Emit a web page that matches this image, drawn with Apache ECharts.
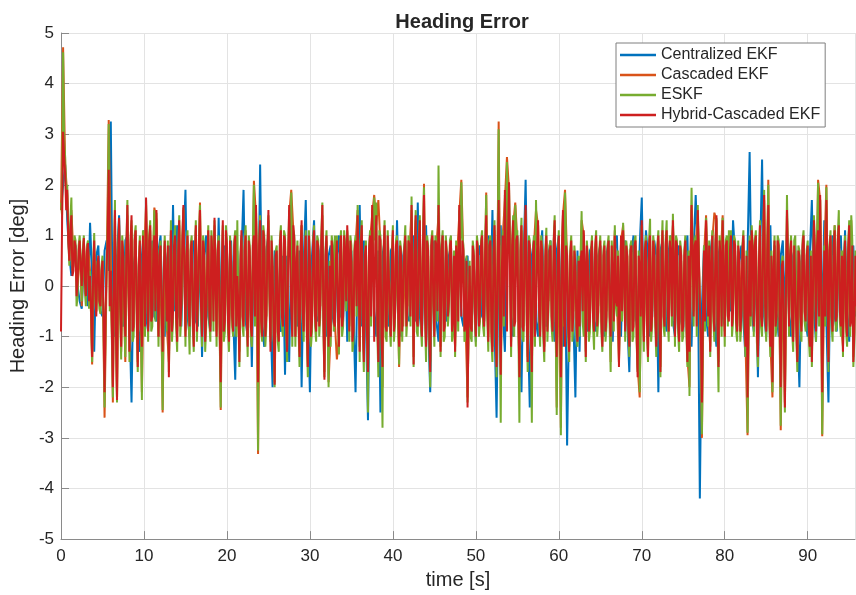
<!DOCTYPE html>
<html>
<head>
<meta charset="utf-8">
<script src="https://cdn.jsdelivr.net/npm/echarts@6/dist/echarts.min.js"></script>
<style>html,body{margin:0;padding:0;background:#fff}#c{width:856px;height:595px}</style>
</head>
<body>
<div id="c"></div>
<script>
// Sample grids (seconds)
const FINE_STEP = 0.25, HALF_OFFSET = 0.125, COARSE_STEP = 0.5;
const xTicks = [0, 10, 20, 30, 40, 50, 60, 70, 80, 90];
const yTicks = [-5, -4, -3, -2, -1, 0, 1, 2, 3, 4, 5];
const seriesNames = ['Centralized EKF', 'Cascaded EKF', 'ESKF', 'Hybrid-Cascaded EKF'];

// Hybrid-Cascaded EKF (deg) at t = 0, 0.25, 0.5, ...
const hybridVals = [
 -0.9, 3.05, 2.2, 1.9, 0.5, 1.4, 0.3, 0.8, 0.1, 0.9,
 0.0, 0.95, -0.2, 0.85, 0.2, -1.4, 0.9, -0.6, 0.6, -0.4,
 0.5, -2.1, 0.4, 2.3, 0.3, -2.0, 1.5, -2.25, 1.35, -1.2,
 0.6, -1.0, 1.6, -1.3, 1.4, -0.8, 1.1, -1.6, 0.9, -1.2,
 0.5, 1.75, -0.9, 1.2, -0.6, 1.0, 1.5, -1.0, 0.8, -1.3,
 0.9, -0.7, -1.8, 1.1, -0.5, 1.0, -1.1, 1.3, -0.4, 1.6,
 -1.0, 1.0, -0.8, 0.9, -1.2, 1.2, -0.3, 1.5, -1.0, 0.7,
 -0.6, 1.1, -0.9, 0.6, 1.35, -1.0, 0.9, -1.9, 1.3, -0.7,
 0.8, -1.1, 0.5, -0.9, 1.0, 0.2, -1.5, 1.1, -0.8, 1.0,
 -1.2, 0.7, -1.0, 1.0, 1.6, -1.9, 1.3, -1.0, 0.9, -0.6,
 1.5, -1.3, 0.4, -1.95, 0.7, -1.1, 1.1, -0.8, 0.9, -1.3,
 1.6, -0.5, 1.2, -1.0, 0.8, -1.4, 1.3, -0.9, 1.0, -1.6,
 0.5, -0.7, 1.1, -0.9, 0.8, -0.4, 1.6, -1.85, 1.0, -1.2,
 -1.0, 0.6, -0.8, 0.9, -1.2, 1.0, -0.6, 0.7, 1.2, -0.9,
 0.5, -0.9, 0.9, 1.4, -1.3, 1.2, -1.5, 0.8, -1.7, 1.0,
 1.6, -1.1, 1.4, -1.5, 0.9, -1.6, 1.2, -0.9, 0.3, -1.0,
 1.1, -0.6, 0.9, -1.2, 0.6, -0.9, 1.0, -0.4, 0.8, 1.6,
 -1.55, 1.4, -0.8, 1.3, -1.0, 1.8, -1.2, 0.7, -1.7, 1.0,
 -1.0, 0.8, 1.6, -1.3, 1.0, -0.8, 0.6, -0.3, 0.9, -0.7,
 -1.3, 0.6, 1.6, -0.6, 0.7, -0.8, -2.4, 0.4, -0.9, 0.6,
 -1.0, 0.7, -0.5, 1.0, -0.8, 1.4, -1.1, 0.9, -1.3, 1.2,
 -1.6, 1.7, -1.75, 1.0, 1.9, -0.9, 2.05, -1.2, 1.3, -0.7,
 1.0, -1.8, 1.2, -0.9, 1.6, -1.5, 0.8, -1.7, 0.9, -0.5,
 1.3, -1.0, 0.7, -1.3, 1.0, -0.3, 0.8, -0.9, 1.3, -1.4,
 1.0, -1.8, 1.5, -1.2, 0.6, -1.3, 0.9, -0.6, 0.4, -1.1,
 -0.8, 0.7, 1.1, -1.4, 0.5, -0.7, 0.9, -0.9, 1.0, -0.5,
 0.9, -1.2, 0.8, -0.6, 0.9, -1.0, 0.3, 1.0, -0.4, -1.6,
 1.0, 1.1, -0.9, 0.6, -1.2, 0.8, -0.8, 0.9, -1.8, 0.4,
 1.3, -1.1, 0.9, -1.4, 1.0, -0.6, 0.7, -1.2, 1.0, -1.7,
 1.1, -0.8, 1.1, -0.9, 0.7, 1.3, -1.0, 0.8, -1.1, 0.6,
 -0.8, 0.9, -1.5, -1.3, 1.6, -0.6, 0.9, 1.5, -0.4, -2.3,
 0.7, 1.3, -0.6, -1.3, 1.0, -0.9, 1.4, -1.6, 0.6, 1.3,
 -1.0, 0.9, -0.7, 1.0, -0.5, 0.8, -0.9, 0.6, -0.6, 1.0,
 -1.2, -2.2, 0.9, 1.1, -0.8, 1.0, -1.4, 1.2, -0.8, 1.8,
 -0.9, 1.6, -1.2, -1.9, 0.9, -0.6, 0.8, -2.0, 0.5, -2.4,
 1.5, -0.8, 0.9, -1.1, 0.8, -1.5, 0.6, -0.9, 1.0, -0.7,
 0.8, -1.2, -1.5, 1.3, -0.9, 1.1, 1.8, -2.1, 0.7, 1.7,
 -1.5, 1.0, -0.9, 1.1, -0.6, 1.2, -0.8, -1.3, 0.9, -1.0,
 1.2, -0.7, -1.5, 0.6
];
// Hybrid-Cascaded EKF (deg) at t = 0.125, 0.375, ...
const hybridMidVals = [
 1.2, 2.6, 1.5, 0.9, 1.1, 0.2, 0.9, -0.2, 0.7, 0.4,
 0.6, 0.1, 0.7, -0.3, -0.5, 0.3, -0.1, 0.4, -0.3, 0.3,
 -0.6, -0.5, 1.0, -0.4, -0.8, 0.2, -0.9, 0.5, -0.3, 0.9,
 -0.4, 0.7, 0.2, 0.8, -0.9, 0.9, -0.5, 0.4, -0.7, 1.0,
 -0.8, 0.4, 0.9, -0.7, 0.7, -0.5, 0.3, 0.6, -0.6, 0.2,
 0.1, 0.8, -0.2, -0.9, 0.8, -0.6, 0.7, -0.8, 0.9, 0.3,
 0.6, -0.4, 0.7, -0.6, 0.5, -0.9, 0.8, -0.4, 0.9, -1.1,
 0.4, -0.5, 1.0, -0.7, 0.2, 0.7, -0.8, 0.3, -0.9, 1.1,
 -0.7, 0.9, -0.6, 0.8, -0.8, -0.4, 0.5, -0.6, 0.7, -0.5,
 0.9, -0.8, 0.8, -0.6, 0.4, 0.8, -0.7, 1.1, -1.0, 0.7,
 -0.2, 0.9, -0.8, 0.6, -0.9, 0.8, -0.6, 1.0, -0.7, 0.5,
 0.6, -1.0, 0.9, 0.4, -0.6, 0.7, -0.5, 0.6, -0.8, 1.0,
 -1.0, 0.8, -0.6, 0.9, -0.8, 0.9, -0.7, 0.6, -0.5, 0.4,
 0.9, -0.7, 0.5, -0.5, 0.7, -0.8, 1.0, -0.3, 0.6, 0.9,
 -1.1, 0.7, -0.4, 0.3, 0.8, -0.7, 0.6, -0.9, 0.7, -0.6,
 0.5, 0.8, -0.7, 1.0, -1.0, 0.6, -0.8, 1.0, -0.6, 0.5,
 -0.9, 0.8, -0.5, 0.8, -0.9, 0.7, -0.8, 0.9, -0.6, 0.2,
 0.6, -0.7, 0.9, -0.6, 0.8, -0.5, 0.9, -0.8, 0.8, -0.3,
 0.9, -0.5, 0.5, 0.7, -0.9, 0.9, -0.6, 0.8, -0.9, 0.6,
 0.8, -0.7, 0.4, 0.9, -0.9, 0.5, -0.6, -0.8, 0.8, -0.5,
 0.9, -0.8, 0.8, -0.6, 0.7, -0.4, 0.8, -0.9, 0.6, -0.7,
 0.5, -0.4, 0.3, -0.6, 0.6, 1.0, 0.2, 0.8, -0.8, 0.9,
 -0.6, 0.7, -0.8, 0.9, -0.5, 0.9, -0.9, 0.6, -1.0, 0.7,
 -0.5, 0.9, -0.8, 0.6, -0.9, 0.7, -0.6, 0.8, -0.7, 0.5,
 -0.6, 0.7, -0.6, 0.8, -0.8, 0.6, -0.9, 0.7, -0.8, 0.5,
 0.5, -0.5, 0.4, 0.8, -0.9, 0.6, -0.6, 0.7, -0.8, 0.6,
 -0.7, 0.6, -0.9, 0.7, -0.6, 0.8, -0.7, -0.3, 0.6, -0.2,
 -0.5, 0.3, 0.8, -0.8, 0.7, -0.9, 0.8, -0.9, 0.6, -0.6,
 -0.4, 0.7, -0.7, 0.8, -0.9, 0.9, -0.6, 0.7, -0.6, 0.6,
 -0.6, 0.8, -0.5, 0.9, -0.6, 0.5, 0.9, -0.7, 0.8, -0.9,
 0.6, -0.7, 0.6, 0.5, 0.7, 0.8, -0.8, 0.6, -1.0, -0.6,
 -0.7, 0.5, 0.8, 0.4, -0.5, 0.8, -0.7, 0.9, -0.8, 0.2,
 0.8, -0.6, 0.7, -0.8, 0.9, -0.7, 0.8, -0.9, 0.7, -0.6,
 0.6, -0.5, -0.6, 0.7, 0.8, -0.9, 0.5, -0.6, 0.9, -0.4,
 0.7, -0.6, 0.6, 0.3, -0.8, 0.9, -0.7, 0.4, -0.8, -0.2,
 0.5, 0.6, -0.7, 0.8, -0.8, 0.7, -0.6, 0.8, -0.5, 0.6,
 -0.8, 0.6, -0.2, 0.6, 0.8, -0.6, 0.2, -0.7, -0.6, 0.3,
 0.7, -0.6, 0.8, -0.7, 0.9, -0.5, 0.6, 0.5, -0.7, 0.7,
 -0.8, 0.8, -0.9, -0.4
];

// ESKF (deg) at t = 0, 0.25, 0.5, ...
const eskfVals = [
 1.65, 4.62, 2.55, 2.0, 0.4, 1.75, 0.4, 0.9, -0.2, 1.0,
 -0.3, 1.0, -0.4, 0.9, 0.3, -1.5, 1.05, -0.5, 0.5, -0.55,
 0.6, -2.4, 0.5, 3.2, 0.2, -2.2, 1.7, -2.3, 1.3, -1.45,
 0.7, -1.4, 1.7, -1.5, 1.3, -1.0, 1.2, -1.7, 1.0, -2.25,
 0.6, 1.7, -1.1, 1.3, -0.8, 1.5, 1.45, -1.2, 0.9, -2.45,
 1.0, -0.9, -1.7, 1.3, -0.7, 1.2, -1.3, 1.4, -0.6, 1.55,
 -1.2, 1.1, -1.35, 1.0, -1.3, 1.3, -0.5, 1.6, -1.2, 0.8,
 -0.8, 1.2, -1.1, 0.7, 1.3, -1.2, 1.0, -2.4, 1.2, -0.9,
 0.9, -1.3, 0.6, -1.0, 1.1, 1.3, -1.6, 1.0, -1.0, 1.2,
 -1.4, 0.8, -1.2, 2.0, 1.5, -3.25, 1.4, -1.1, 1.0, -0.8,
 1.4, -1.1, 0.5, -2.0, 0.8, -1.3, 1.2, -1.0, 1.0, -1.5,
 1.5, 1.85, 1.1, -1.2, 0.9, -1.6, 1.2, -1.1, 1.1, -1.8,
 0.6, -0.9, 1.2, -1.1, 0.9, -0.6, 1.65, -1.8, 1.1, -2.0,
 -1.2, 0.8, 1.0, 1.0, -1.35, 1.1, -0.8, 0.8, 1.1, -1.1,
 0.8, -1.1, 1.0, 1.6, -1.5, 1.3, -1.7, 0.9, -2.5, 1.1,
 1.5, 1.75, 1.65, -1.8, 1.0, -2.8, 1.3, -1.1, 0.5, -1.2,
 1.2, -0.8, 1.0, -1.55, 0.7, -1.1, 1.2, -0.6, 0.9, 1.77,
 -1.6, 1.5, -1.0, 1.4, -1.2, 1.95, -1.5, 0.8, -2.0, 1.1,
 -1.2, 0.9, 2.38, -1.4, 1.1, -1.0, 0.7, -0.5, 1.0, -0.9,
 -1.4, 0.9, 1.5, 2.05, 0.8, -1.0, -2.3, 0.5, -1.1, 0.7,
 -1.2, 0.8, -0.7, 1.1, -1.0, 1.8, -1.3, 1.0, -1.5, 1.3,
 -1.8, 3.1, -2.7, 1.1, 1.8, 2.45, 1.95, -1.4, 1.4, 1.6,
 1.1, -2.7, 1.35, -1.1, 1.5, -1.7, 0.9, -2.7, 1.0, 1.7,
 1.2, -1.2, 0.8, -1.5, 1.15, -0.5, 0.9, -1.1, 1.4, -2.55,
 1.1, -2.95, 1.4, 1.85, 0.7, -1.5, 1.0, -0.8, 0.5, -1.2,
 -1.0, 1.48, -1.0, -1.5, 0.6, -0.9, 1.0, -1.26, 1.1, -0.7,
 1.0, -1.3, 0.9, -0.8, 1.0, -1.7, 0.5, 1.2, -0.6, -1.5,
 0.9, 1.25, -1.1, 0.7, -1.4, 0.9, -1.0, 1.0, -1.7, -2.1,
 1.2, -1.3, 1.0, -1.5, 1.33, -0.8, 0.8, -1.4, 1.1, -1.8,
 1.3, -1.0, 1.3, -1.1, 0.8, 1.43, -1.2, 0.9, -1.3, 0.7,
 -1.0, 1.0, -1.6, -2.17, 1.94, -0.8, 1.0, 1.6, -0.6, -2.93,
 0.8, 1.35, -0.8, -1.4, 1.1, -1.1, 1.35, -2.1, 0.7, 1.35,
 -1.2, 1.0, 1.1, 1.1, -0.7, 0.9, -1.1, 0.9, -0.8, 1.1,
 -1.4, -2.9, 1.0, 1.2, -1.0, 1.1, -1.6, 1.3, -1.0, 1.9,
 -1.1, 2.0, -1.4, -2.1, 1.0, -0.8, 0.9, -2.76, 0.6, -2.5,
 1.8, -1.0, 1.0, -1.3, 1.0, -1.7, 0.7, -1.1, 1.1, -0.9,
 0.9, -1.4, -1.6, 1.4, -1.1, 2.04, 1.7, -2.93, 0.8, 1.95,
 -1.7, 1.1, -1.1, 1.2, -0.8, 1.5, -1.0, -1.4, 1.0, -1.2,
 1.3, 1.4, -1.6, 0.7
];
// ESKF (deg) at t = 0.125, 0.375, ...
const eskfMidVals = [
 1.4, 2.9, 1.7, 1.0, 1.3, 0.3, 1.0, -0.4, 0.8, 0.5,
 0.7, -0.1, 0.8, -0.45, -0.6, 0.4, -0.3, 0.5, -0.45, 0.4,
 -0.8, -0.6, 1.2, -0.5, -1.0, 0.3, -1.1, 0.6, -0.5, 1.0,
 -0.6, 0.8, 0.3, 0.9, -1.1, 1.0, -0.7, 0.5, -0.9, 1.1,
 -1.0, 0.5, 1.0, -0.9, 0.8, -0.7, 0.4, 0.7, -0.8, 0.3,
 0.2, 0.9, -0.3, -1.1, 0.9, -0.8, 0.8, -1.0, 1.0, 0.4,
 0.7, -0.6, 0.8, -0.8, 0.6, -1.1, 0.9, -0.6, 1.0, -1.3,
 0.5, -0.7, 1.1, -0.9, 0.3, 0.8, -1.0, 0.4, -1.1, 1.2,
 -0.9, 1.0, -0.8, 0.9, -1.0, -0.5, 0.6, -0.8, 0.8, -0.7,
 1.0, -1.0, 0.9, -0.8, 0.5, 0.9, -0.9, 1.2, -1.2, 0.8,
 -0.3, 1.0, -1.0, 0.7, -1.1, 0.9, -0.8, 1.1, -0.9, 0.6,
 0.7, -1.2, 1.0, 0.5, -0.8, 0.8, -0.7, 0.7, -1.0, 1.1,
 -1.2, 0.9, -0.8, 1.0, -1.0, 1.0, -0.9, 0.7, -0.7, 0.5,
 1.0, -0.9, 0.6, -0.7, 0.8, -1.0, 1.1, -0.5, 0.7, 1.0,
 -1.3, 0.8, -0.6, 0.4, 0.9, -0.9, 0.7, -1.1, 0.8, -0.8,
 0.6, 0.9, -0.9, 1.1, -1.2, 0.7, -1.0, 1.1, -0.8, 0.6,
 -1.1, 0.9, -0.7, 0.9, -1.1, 0.8, -1.0, 1.0, -0.8, 0.3,
 0.7, -0.9, 1.0, -0.8, 0.9, -0.7, 1.0, -1.0, 0.9, -0.4,
 1.0, -0.7, 0.6, 0.8, -1.1, 1.0, -0.8, 0.9, -1.1, 0.7,
 0.9, -0.9, 0.5, 1.0, -1.1, 0.6, -0.8, -1.0, 0.9, -0.7,
 1.0, -1.0, 0.9, -0.8, 0.8, -0.6, 0.9, -1.1, 0.7, -0.9,
 0.6, -0.6, 0.4, -0.8, 0.7, 1.1, 0.3, 0.9, -1.0, 1.0,
 -0.8, 0.8, -1.0, 1.0, -0.7, 1.0, -1.1, 0.7, -1.2, 0.8,
 -0.7, 1.0, -1.0, 0.7, -1.1, 0.8, -0.8, 0.9, -0.9, 0.6,
 -0.8, 0.8, -0.8, 0.9, -1.0, 0.7, -1.1, 0.8, -1.0, 0.6,
 0.6, -0.7, 0.5, 0.9, -1.1, 0.7, -0.8, 0.8, -1.0, 0.7,
 -0.9, 0.7, -1.1, 0.8, -0.8, 0.9, -0.9, -0.4, 0.7, -0.3,
 -0.7, 0.4, 0.9, -1.0, 0.8, -1.1, 0.9, -1.1, 0.7, -0.8,
 -0.5, 0.8, -0.9, 0.9, -1.1, 1.0, -0.8, 0.8, -0.8, 0.7,
 -0.8, 0.9, -0.7, 1.0, -0.8, 0.6, 1.0, -0.9, 0.9, -1.1,
 0.7, -0.9, 0.7, 0.6, 0.8, 0.9, -1.0, 0.7, -1.2, -0.8,
 -0.9, 0.6, 0.9, 0.5, -0.7, 0.9, -0.9, 1.0, -1.0, 0.3,
 0.9, -0.8, 0.8, -1.0, 1.0, -0.9, 0.9, -1.1, 0.8, -0.8,
 0.7, -0.7, -0.8, 0.8, 0.9, -1.1, 0.6, -0.8, 1.0, -0.6,
 0.8, -0.8, 0.7, 0.4, -1.0, 1.0, -0.9, 0.5, -1.0, -0.3,
 0.6, 0.7, -0.9, 0.9, -1.0, 0.8, -0.8, 0.9, -0.7, 0.7,
 -1.0, 0.7, -0.3, 0.7, 0.9, -0.8, 0.3, -0.9, -0.8, 0.4,
 0.8, -0.8, 0.9, -0.9, 1.0, -0.7, 0.7, 0.6, -0.9, 0.8,
 -1.0, 0.9, -1.1, -0.5
];

// Centralized EKF (deg) at t = 0, 0.5, 1.0, ...
const centralVals = [
 1.5, 2.4, 0.6, 0.5, 0.0,   -0.45, 0.3, 1.25, -1.3, 0.8,
 -0.6, 0.9, 3.25, -1.0, 1.4,   -0.8, 1.0, -2.3, 0.7, -1.3,
 1.1, -0.9, 0.9, -0.7, 1.0,   -1.0, 0.8, 1.6, 1.2, -0.8,
 1.9, -1.0, 0.9, -0.8, -1.4,   1.0, -0.9, 0.8, 1.35, -0.9,
 0.7, 0.9, -1.85, -0.6, 1.9,   -1.0, -1.6, 0.9, 2.4, -1.2,
 1.0, -2.0, 0.6, -0.9, -1.75,   -1.5, 1.0, -0.8, -2.0, 1.7,
 -2.1, 1.3, -0.7, 1.0, -1.0,   0.8, -0.9, 1.0, -0.7, -1.1,
 0.7, -2.1, 1.6, 0.9, -2.65,   1.2, -1.0, -2.5, 0.9, -0.8,
 0.8, 1.3, -1.0, 0.9, -0.7,   1.0, 1.65, -1.0, 1.2, -2.1,
 0.9, -1.1, 1.0, -0.7, 0.8,   -1.0, 1.1, -0.8, 0.6, -0.9,
 -1.1, 0.8, -0.7, 1.0, 1.5,   -2.6, 1.2, -1.3, 1.5, -1.0,
 1.0, -2.1, 2.1, -2.4, 0.9,   -1.0, 1.1, -0.8, 0.9, -1.1,
 1.0, -1.2, -3.15, 0.6, -2.2,   -1.3, 1.0, -0.9, 0.8, -0.9,
 0.8, -1.0, 0.9, -1.1, 1.0,   -1.0, 0.9, -1.7, 1.0, -0.9,
 1.75, 1.1, -1.0, 0.9, -2.1,   0.9, -0.9, 1.0, -1.0, 0.8,
 -0.9, 1.0, -1.2, 1.8, -4.2,   0.8, -1.0, 1.0, -1.2, 0.9,
 -0.8, 1.0, 1.3, -0.4, 0.8,   -1.4, 2.65, -0.9, -1.8, 2.5,
 -1.0, 1.2, 0.8, -1.0, 0.9,   1.1, -1.0, 0.8, -2.0, 0.9,
 -1.0, 1.7, -1.1, 1.0, 1.3,   -2.3, 1.0, -0.9, 1.0, 1.1,
 -1.1, 0.8
];
// Centralized EKF (deg) at t = 0.25, 0.75, ...
const centralMidVals = [
 2.0, 1.3, 0.2, 0.8, -0.3,   0.5, -0.4, 0.2, 0.6, -0.5,
 0.7, 0.3, -0.9, 0.6, -0.7,   0.9, -0.6, 0.4, -0.8, 0.6,
 -0.6, 0.5, -0.6, 0.7, -0.8,   0.5, -0.7, -0.5, -0.6, 0.7,
 -0.6, 0.7, -0.7, 0.8, 0.6,   -0.6, 0.6, -0.7, -0.6, 0.8,
 -0.8, -0.6, 0.7, 0.6, -0.7,   0.6, 0.8, -0.7, -0.8, 0.7,
 -0.6, 0.7, -0.8, 0.6, 0.6,   0.7, -0.6, 0.7, 0.5, -0.6,
 0.6, -0.6, 0.7, -0.7, 0.6,   -0.6, 0.6, -0.6, 0.7, 0.6,
 -0.6, 0.5, -0.8, -0.7, 0.6,   -0.5, 0.7, 0.6, -0.6, 0.7,
 -0.6, -0.5, 0.6, -0.6, 0.8,   -0.7, -0.6, 0.6, -0.7, 0.7,
 -0.7, 0.6, -0.6, 0.6, -0.8,   0.6, -0.6, 0.5, -0.7, 0.6,
 0.6, -0.6, 0.7, -0.5, -0.8,   0.7, -0.5, 0.8, -0.6, 0.7,
 -0.6, 0.5, -0.6, 0.6, -0.7,   0.6, -0.7, 0.6, -0.6, 0.7,
 -0.6, 0.6, -0.5, -0.6, 0.7,   0.6, -0.6, 0.7, -0.7, 0.6,
 -0.7, 0.6, -0.6, 0.7, -0.6,   0.6, -0.7, 0.6, -0.6, 0.8,
 -0.5, 0.6, -0.6, 0.6, 0.7,   -0.6, 0.7, -0.7, 0.6, -0.7,
 0.6, -0.7, 0.7, 0.6, -0.4,   -0.6, 0.6, -0.7, 0.6, -0.6,
 0.6, -0.5, 0.6, 0.5, -0.7,   0.7, -0.5, 0.6, 0.5, -0.6,
 0.6, -0.6, -0.5, 0.6, -0.6,   -0.6, 0.6, -0.7, 0.5, -0.7,
 0.6, -0.5, 0.6, -0.6, -0.7,   0.5, -0.6, 0.7, -0.6, -0.5,
 0.6, -0.6
];

// Cascaded EKF (deg) at t = 0.25, 0.75, ...
const cascadedVals = [
 4.72, 1.8, 1.5, 0.7, 0.8,   0.9, 0.8, -1.55, -0.5, -0.4,
 -2.6, 3.28, -2.3, -2.2, -1.3,   -1.5, -1.3, -0.9, -1.5, -2.1,
 1.6, 1.1, 1.55, -1.0, -2.5,   -0.8, 1.1, 0.9, 1.2, 1.5,
 0.9, 0.8, 1.1, 1.65, 0.6,   1.0, 0.5, -0.9, -2.45, -0.7,
 -1.0, -0.8, 0.1, 0.9, 1.1,   0.6, 2.08, -3.32, -0.9, -0.6,
 -1.0, -1.9, -1.0, -0.8, -1.2,   1.9, -1.0, -1.3, -0.8, -1.6,
 -0.7, -0.8, -0.4, -1.7, -1.9,   0.6, -1.45, 1.0, 0.6, -0.8,
 -0.9, 1.5, 1.1, 0.8, 0.9,   1.8, 1.7, -2.0, -0.8, -1.0,
 -0.6, -1.6, -0.8, -0.4, 1.5,   1.3, 1.2, 2.02, 0.6, 1.0,
 0.8, -1.2, -0.7, -0.3, -0.6,   0.6, 2.1, -0.7, 0.4, 0.5,
 0.7, 1.0, 1.85, 0.8, 1.1,   3.25, 1.0, 2.55, -1.1, 1.65,
 -1.7, -0.8, -1.4, -1.6, 1.5,   -0.9, -1.2, -0.3, -0.8, -2.4,
 -2.8, 1.9, -1.2, -0.5, -1.0,   1.3, -1.3, -0.6, -0.8, -0.4,
 -1.1, -0.5, -1.5, 1.1, -1.5,   1.2, 0.6, 0.8, 0.8, -2.2,
 -1.0, -1.3, -0.5, -1.1, -1.6,   -0.7, -0.8, 1.2, 0.7, 0.5,
 0.8, -2.0, -0.5, 1.4, -3.0,   1.4, -1.2, 1.45, -1.5, 1.4,
 0.8, 1.0, 0.7, 0.5, 0.9,   -2.95, 1.0, 1.0, 1.1, 1.7,
 2.1, -2.2, -0.5, -2.85, -2.3,   -0.7, -1.0, -1.4, -0.8, -0.6,
 -1.1, 1.2, 2.1, -2.97, 2.0,   0.9, 1.2, 1.1, -1.2, -0.9,
 1.3, 0.5
];
// Cascaded EKF (deg) at t = 0, 0.5, 1.0, ...
const cascadedMidVals = [
 1.5, 2.4, 0.5, 0.6, 0.0,   -0.4, 0.2, 0.3, 0.7, 0.5,
 0.5, 0.3, 0.6, 1.4, 1.2,   0.6, 1.4, 1.2, 1.0, 0.8,
 0.5, -0.8, -0.5, 1.3, 0.7,   0.8, -1.5, -0.5, -0.9, -0.4,
 -0.9, -0.7, -1.0, -0.3, -0.9,   -0.5, -0.8, 1.2, 0.8, 1.1,
 0.7, 0.5, 0.9, -1.3, -0.7,   -1.0, -0.9, 1.4, 1.2, 0.8,
 1.3, 0.4, 0.6, 1.0, 0.8,   1.4, 1.1, 0.7, 1.2, 0.9,
 0.5, 1.0, 0.7, 1.4, 0.9,   -0.9, -0.7, -1.0, -0.5, 1.0,
 0.5, 0.8, -1.2, -1.3, -1.5,   1.4, 1.2, 0.8, 1.0, 0.3,
 1.0, 0.8, 0.5, 0.9, 0.7,   -1.4, -0.7, -0.9, -1.1, -1.5,
 -0.9, 1.4, 0.9, 0.5, 0.8,   -1.2, 1.4, 0.6, -2.2, -0.8,
 -0.9, -0.4, -0.7, -1.0, -1.2,   -1.5, -1.6, 1.7, 1.9, 1.2,
 0.9, 1.1, 1.4, 0.7, 0.8,   1.2, 0.6, 0.9, 0.7, 1.2,
 0.9, 1.4, 0.5, 0.8, 0.3,   -0.7, 1.0, 0.4, 0.8, 0.9,
 0.8, 0.7, 0.8, 0.2, -0.3,   0.9, -0.8, -1.1, -0.7, -1.6,
 1.2, 0.8, 0.9, 0.6, 0.9,   1.0, 1.0, 0.6, -0.9, -1.0,
 -0.7, -1.4, 1.5, 0.8, -0.3,   0.6, -0.5, 0.9, 1.3, 0.5,
 -0.9, -0.6, -0.4, -0.8, -0.5,   -1.1, 0.8, -0.7, -1.3, -0.7,
 -0.8, -1.1, 0.8, 0.7, 0.4,   1.4, 0.8, 0.7, 0.5, 0.9,
 0.7, -1.4, -0.8, 1.7, 0.6,   -1.4, -0.8, -0.5, -0.7, 0.8,
 1.1, -1.4
];

// Merge two interleaved sample sets into one time-ordered list of [t, value]
function merged(valsA, startA, valsB, startB, step) {
  const pts = [];
  valsA.forEach(function (v, i) { pts.push([startA + i * step, v]); });
  valsB.forEach(function (v, i) { pts.push([startB + i * step, v]); });
  pts.sort(function (a, b) { return a[0] - b[0]; });
  return pts;
}

const colors = ['#0072BD', '#D95319', '#77AC30', '#CD1F1F'];
const seriesData = [
  merged(centralVals, 0, centralMidVals, 0.25, COARSE_STEP),
  merged(cascadedVals, 0.25, cascadedMidVals, 0, COARSE_STEP),
  merged(eskfVals, 0, eskfMidVals, HALF_OFFSET, FINE_STEP),
  merged(hybridVals, 0, hybridMidVals, HALF_OFFSET, FINE_STEP)
];

const FONT = 'Liberation Sans, Arial, sans-serif';
const TXT = '#262626';
const AXC = '#8a8a8a';
const GRIDC = '#e3e3e3';

const chart = echarts.init(document.getElementById('c'), null, {renderer: 'canvas'});
chart.setOption({
  animation: false,
  backgroundColor: '#ffffff',
  color: colors,
  title: {
    text: 'Heading Error',
    left: 457, top: 7, textAlign: 'center',
    textStyle: {fontFamily: FONT, fontSize: 20, fontWeight: 'bold', color: TXT}
  },
  legend: {
    orient: 'vertical',
    left: 616, top: 43,
    padding: [3, 5, 3, 4],
    itemGap: 2,
    itemWidth: 36, itemHeight: 2.5,
    icon: 'rect',
    backgroundColor: '#ffffff',
    borderColor: '#7f7f7f', borderWidth: 1,
    textStyle: {fontFamily: FONT, fontSize: 16, color: TXT, lineHeight: 18},
    data: seriesNames
  },
  grid: {left: 59, right: 1, top: 33, bottom: 55, containLabel: false},
  xAxis: {
    type: 'value', min: xTicks[0], max: 95.7, interval: 10,
    name: 'time [s]', nameLocation: 'middle', nameGap: 29,
    nameTextStyle: {fontFamily: FONT, fontSize: 20, color: TXT},
    axisLine: {show: true, onZero: false, lineStyle: {color: AXC, width: 1}},
    axisTick: {show: true, inside: true, length: 8, lineStyle: {color: AXC}},
    axisLabel: {fontFamily: FONT, fontSize: 17, color: TXT, margin: 9, showMaxLabel: false,
      formatter: function (v) { return xTicks.indexOf(v) >= 0 ? String(v) : ''; }},
    splitLine: {show: true, lineStyle: {color: GRIDC, width: 1}}
  },
  yAxis: {
    type: 'value', min: yTicks[0], max: yTicks[yTicks.length - 1], interval: 1,
    name: 'Heading Error [deg]', nameLocation: 'middle', nameGap: 28,
    nameTextStyle: {fontFamily: FONT, fontSize: 20, color: TXT},
    axisLine: {show: true, onZero: false, lineStyle: {color: AXC, width: 1}},
    axisTick: {show: true, inside: true, length: 8, lineStyle: {color: AXC}},
    axisLabel: {fontFamily: FONT, fontSize: 17, color: TXT, margin: 7},
    splitLine: {show: true, lineStyle: {color: GRIDC, width: 1}}
  },
  series: seriesNames.map(function (name, i) {
    return {
      name: name, type: 'line', data: seriesData[i],
      showSymbol: false, symbol: 'none', clip: true, sampling: null,
      lineStyle: {width: 2, color: colors[i]},
      itemStyle: {color: colors[i]},
      emphasis: {disabled: true}
    };
  })
});
</script>
</body>
</html>
